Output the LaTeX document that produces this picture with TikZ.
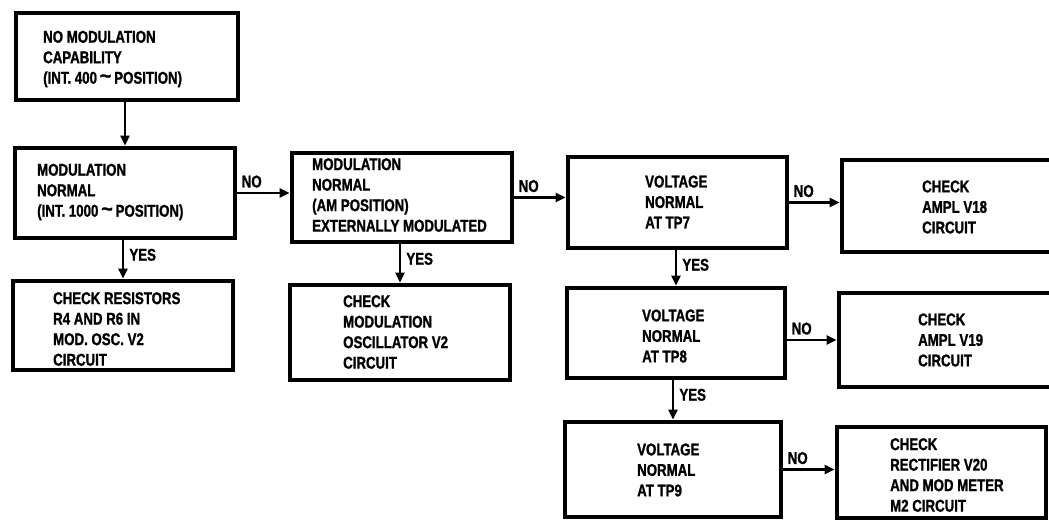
\documentclass[tikz,border=0pt]{standalone}
\usepackage{fontspec}
\setmainfont{Liberation Sans}[FakeStretch=0.78, BoldFeatures={FakeBold=1.2}]
\usetikzlibrary{arrows.meta}
\newcommand{\bx}[5]{\node[box, minimum width={#4-#2}, minimum height={#5-#3}] (#1) at ({(#2+#4)/2},{(#3+#5)/2}) {};}
\newcommand{\wave}{\raisebox{0.1ex}{\scalebox{1.5}[1.2]{\textasciitilde}}}
\begin{document}
\begin{tikzpicture}[x=1pt,y=-1pt,
  box/.style={draw, line width=4.8pt, inner sep=0pt},
  txt/.style={anchor=west, align=left, inner sep=0pt, font=\bfseries\fontsize{17}{20.5}\selectfont},
  lbl/.style={inner sep=0pt, font=\bfseries\fontsize{17}{18}\selectfont},
  conn/.style={line width=2.8pt, -{Triangle[length=10pt,width=9pt]}}]
\useasboundingbox (0,0) rectangle (1049,523);
\fill[white] (0,0) rectangle (1049,523);
\clip (0,0) rectangle (1049,523);
% boxes
\bx{b1}{16}{13}{238}{100}
\bx{b2}{15}{148}{235}{238}
\bx{b3}{13}{281}{233}{370}
\bx{b4}{292}{153}{512}{242}
\bx{b5}{290}{285}{510}{380}
\bx{b6}{568}{157}{787}{248}
\bx{b7}{567}{288}{785}{378}
\bx{b8}{565}{422}{781}{517}
\bx{b9}{842}{160}{1065}{252}
\bx{b10}{839}{293}{1065}{387}
\bx{b11}{837}{427}{1046}{518}
% texts
\node[txt] (t1) at (43,59) {NO MODULATION\\CAPABILITY\\(INT. 400\,\wave\,POSITION)};
\node[txt] (t2) at (37,192) {MODULATION\\NORMAL\\(INT. 1000\,\wave\,POSITION)};
\node[txt] (t3) at (53,329) {CHECK RESISTORS\\R4 AND R6 IN\\MOD. OSC. V2\\CIRCUIT};
\node[txt] (t4) at (312,195) {MODULATION\\NORMAL\\(AM POSITION)\\EXTERNALLY MODULATED};
\node[txt] (t5) at (343,332) {CHECK\\MODULATION\\OSCILLATOR V2\\CIRCUIT};
\node[txt] (t6) at (645,202) {VOLTAGE\\NORMAL\\AT TP7};
\node[txt] (t7) at (642,336) {VOLTAGE\\NORMAL\\AT TP8};
\node[txt] (t8) at (637,470) {VOLTAGE\\NORMAL\\AT TP9};
\node[txt] (t9) at (922,207) {CHECK\\AMPL V18\\CIRCUIT};
\node[txt] (t10) at (918,340) {CHECK\\AMPL V19\\CIRCUIT};
\node[txt] (t11) at (890,475) {CHECK\\RECTIFIER V20\\AND MOD METER\\M2 CIRCUIT};
% connectors
\draw[conn] (b2.north |- b1.south) -- (b2.north);
\draw[conn] (b3.north |- b2.south) -- (b3.north)
  node[pos=0, lbl, anchor=north west, xshift=5pt, yshift=-7pt] {YES};
\draw[conn] (b2.east) -- (b2.east -| b4.west)
  node[pos=0, lbl, anchor=south west, xshift=3pt, yshift=4pt] {NO};
\draw[conn] (b5.north |- b4.south) -- (b5.north)
  node[pos=0, lbl, anchor=north west, xshift=5pt, yshift=-7pt] {YES};
\draw[conn] (b4.east) -- (b4.east -| b6.west)
  node[pos=0, lbl, anchor=south west, xshift=3pt, yshift=4pt] {NO};
\draw[conn] (b7.north |- b6.south) -- (b7.north)
  node[pos=0, lbl, anchor=north west, xshift=5pt, yshift=-7pt] {YES};
\draw[conn] (b8.north |- b7.south) -- (b8.north)
  node[pos=0, lbl, anchor=north west, xshift=5pt, yshift=-7pt] {YES};
\draw[conn] (b6.east) -- (b6.east -| b9.west)
  node[pos=0, lbl, anchor=south west, xshift=3pt, yshift=4pt] {NO};
\draw[conn] (b10.west -| b7.east) -- (b10.west)
  node[pos=0, lbl, anchor=south west, xshift=3pt, yshift=4pt] {NO};
\draw[conn] (b8.east) -- (b8.east -| b11.west)
  node[pos=0, lbl, anchor=south west, xshift=3pt, yshift=4pt] {NO};
\end{tikzpicture}
\end{document}
